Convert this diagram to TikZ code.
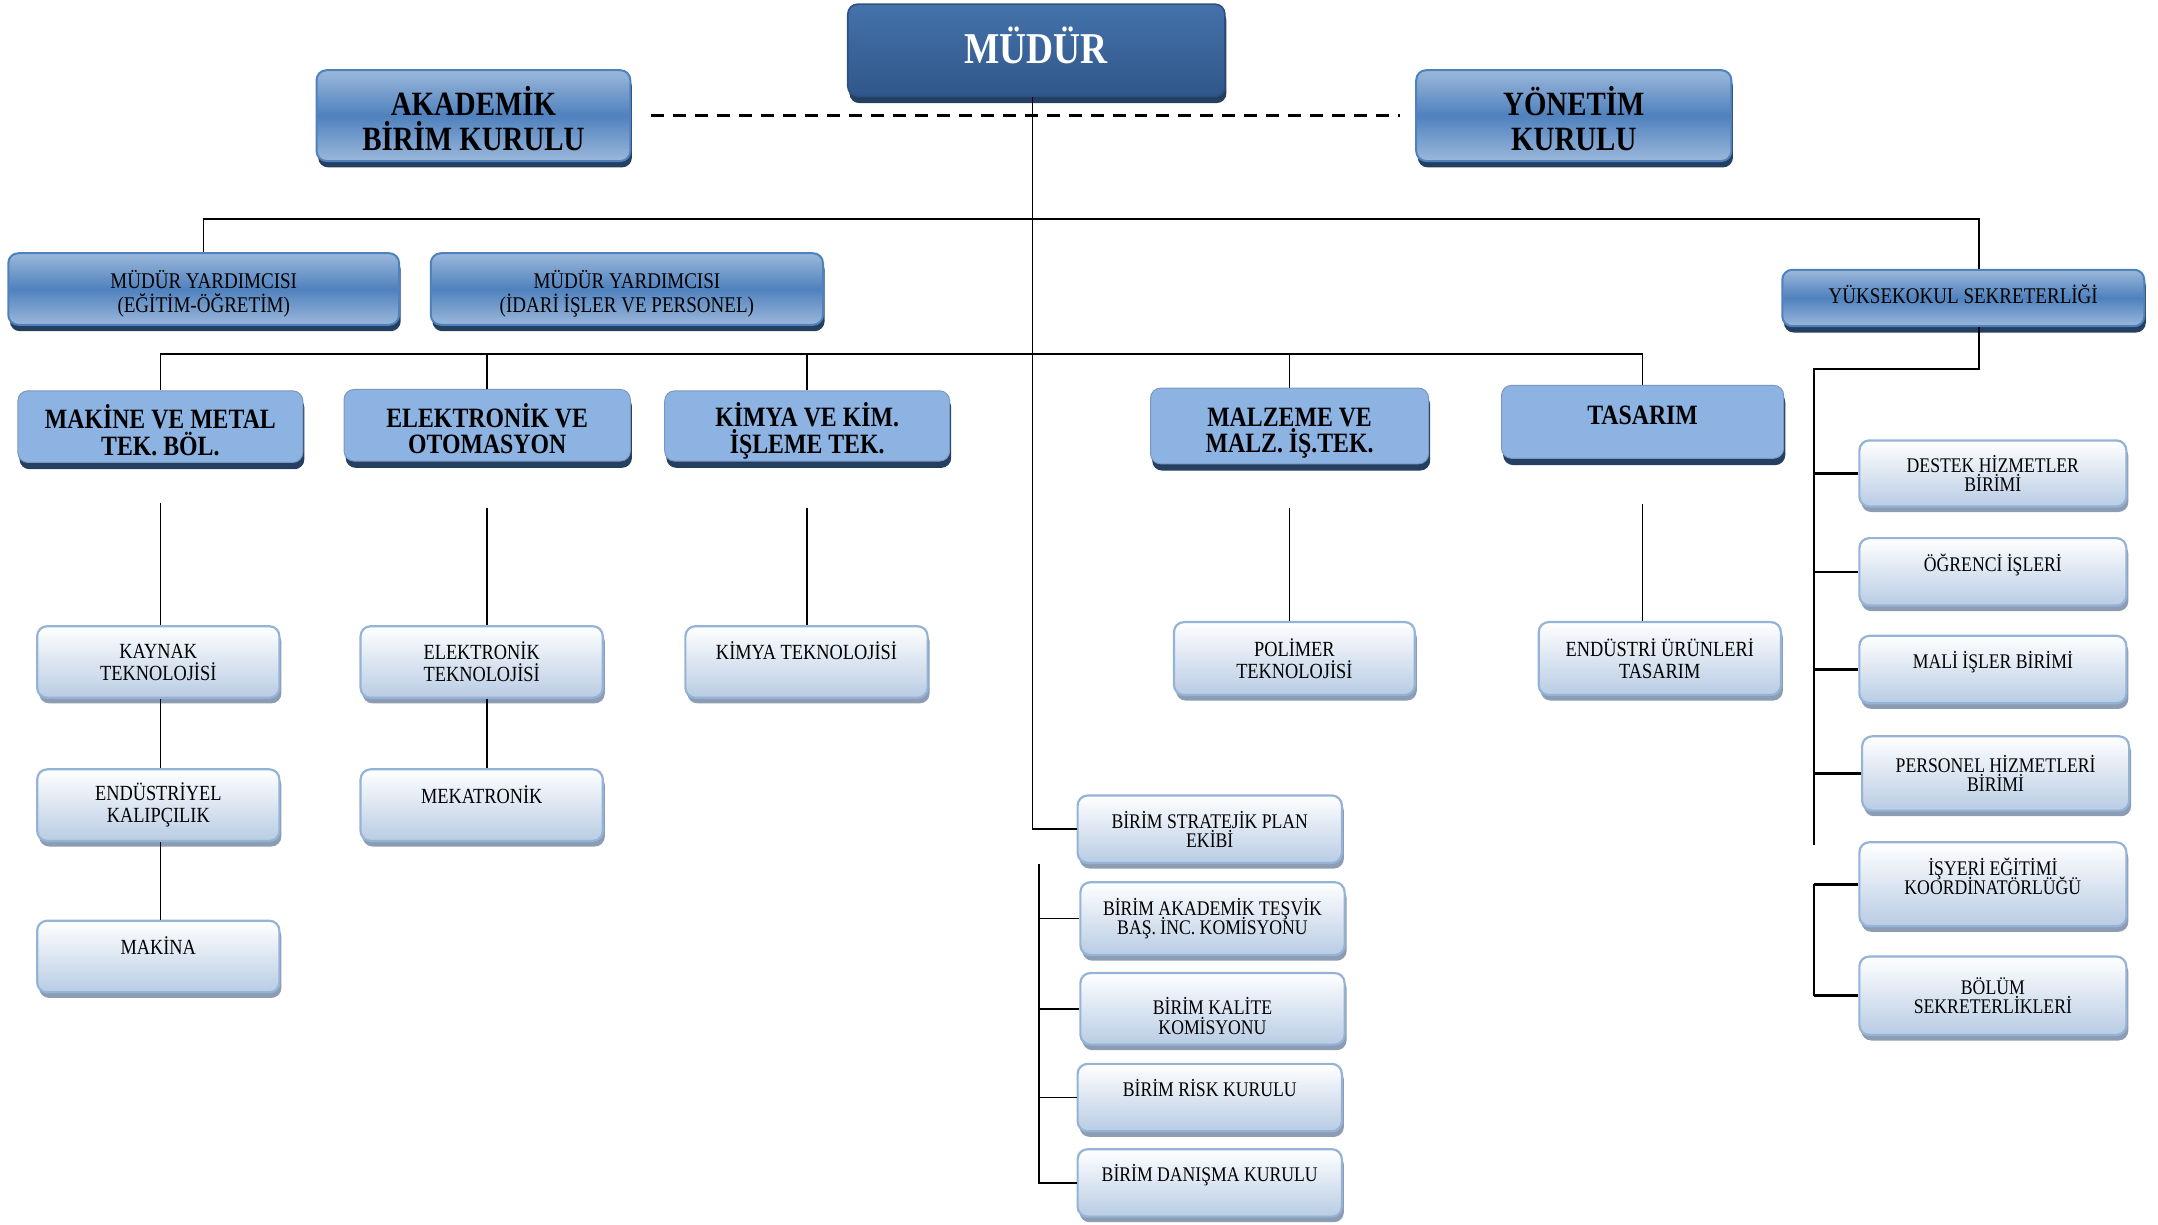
\documentclass[tikz,border=0pt]{standalone}
\usepackage{fontspec}
\setmainfont{Liberation Serif}[FakeStretch=0.85]
\usetikzlibrary{shadows,calc}
\definecolor{dkt}{HTML}{4472AA}
\definecolor{dkbt}{HTML}{30578B}
\definecolor{dkline}{HTML}{2E5080}
\definecolor{navy}{HTML}{243F60}
\definecolor{lt}{HTML}{9BB8DB}
\definecolor{md}{HTML}{4F81BD}
\definecolor{dept}{HTML}{8DB3E2}
\definecolor{smb}{HTML}{95B3D7}
\definecolor{smbot}{HTML}{B8CCE4}
\definecolor{smsh}{HTML}{8C9CB3}
\newcommand{\tightlines}{\lineskiplimit=-20pt\lineskip=0pt}
\newcommand{\dn}[1]{\rule{0pt}{#1}}
\newcommand{\upr}[1]{\rule[-#1]{0pt}{#1}}
\begin{document}
\begin{tikzpicture}[x=0.6882pt,y=-0.6882pt,
  sz/.style 2 args={minimum width=#1*0.6882pt, minimum height=#2*0.6882pt},
  base/.style={rounded corners=5pt, align=center, inner sep=0pt, text=black},
  darkbox/.style={base, draw=dkline, line width=0.8pt, top color=dkt, bottom color=dkbt,
    drop shadow={shadow xshift=0.8pt, shadow yshift=-3.4pt, fill=navy, opacity=1},
    text=white, font=\bfseries\fontsize{22}{24}\selectfont},
  midbox/.style={base, draw=md, line width=1pt, top color=lt, bottom color=lt, middle color=md,
    drop shadow={shadow xshift=0.8pt, shadow yshift=-3.2pt, fill=navy, opacity=1}},
  deptbox/.style={base, fill=dept, draw=dept!85!black, line width=0.5pt,
    drop shadow={shadow xshift=0.8pt, shadow yshift=-3.4pt, fill=navy, opacity=1},
    font=\bfseries\fontsize{14}{13.1}\selectfont\tightlines},
  smallbox/.style={base, draw=smb, line width=1.1pt, top color=white, bottom color=smbot,
    drop shadow={shadow xshift=1pt, shadow yshift=-2.8pt, fill=smsh, opacity=1}},
  fbig/.style={font=\bfseries\fontsize{17}{17.2}\selectfont\tightlines},
  fmy/.style={font=\fontsize{11.2}{11.7}\selectfont\tightlines},
  fsm/.style={font=\fontsize{10.8}{11}\selectfont\tightlines},
  fcm/.style={font=\fontsize{10.4}{9.6}\selectfont\tightlines},
  ln/.style={draw=black, line width=0.8pt},
  lnt/.style={draw=black, line width=1.3pt},
  dashline/.style={draw=black, line width=1.5pt, dash pattern=on 6.5pt off 4.5pt}
]
\useasboundingbox (0,0) rectangle (1568,890);

% top level
\node[darkbox, sz={274}{67}] (mudur) at (753,36.5) {MÜDÜR\upr{5.5pt}};
\node[midbox, fbig, sz={228}{66}] (akad) at (344,84) {\dn{17.6pt}AKADEMİK\\BİRİM KURULU};
\node[midbox, fbig, sz={229}{66}] (yon) at (1143.5,84) {\dn{17.6pt}YÖNETİM\\KURULU};

\node[midbox, fmy, sz={284}{52}] (my1) at (148,210) {\dn{13.7pt}MÜDÜR YARDIMCISI\\(EĞİTİM-ÖĞRETİM)};
\node[midbox, fmy, sz={285}{52}] (my2) at (455.5,210) {\dn{13.7pt}MÜDÜR YARDIMCISI\\(İDARİ İŞLER VE PERSONEL)};
\node[midbox, fmy, sz={263}{41}] (yuk) at (1426.5,216.5) {YÜKSEKOKUL SEKRETERLİĞİ\upr{4pt}};

% departments
\node[deptbox, sz={207}{52}] (mak) at (116.5,310) {\dn{15.5pt}MAKİNE VE METAL\\TEK. BÖL.};
\node[deptbox, sz={208}{52}] (ele) at (354,309) {\dn{15pt}ELEKTRONİK VE\\OTOMASYON};
\node[deptbox, sz={207}{51}] (kim) at (586.5,309.5) {\dn{17pt}KİMYA VE KİM.\\İŞLEME TEK.};
\node[deptbox, sz={202}{55}] (malz) at (937,309.5) {\dn{16.5pt}MALZEME VE\\MALZ. İŞ.TEK.};
\node[deptbox, sz={205}{53}] (tas) at (1193.5,306.5) {\dn{16pt}TASARIM\\\phantom{X}};

% programmes
\node[smallbox, fsm, sz={176}{52}] (kay) at (115,481) {KAYNAK\\TEKNOLOJİSİ};
\node[smallbox, fsm, sz={176}{52}] (end) at (115,585) {ENDÜSTRİYEL\\KALIPÇILIK};
\node[smallbox, fsm, sz={176}{52}] (mkn) at (115,695) {MAKİNA\\\phantom{X}};
\node[smallbox, fsm, sz={176}{52}] (etk) at (350,481) {ELEKTRONİK\\TEKNOLOJİSİ};
\node[smallbox, fsm, sz={176}{52}] (mek) at (350,585) {MEKATRONİK\\\phantom{X}};
\node[smallbox, fsm, sz={176}{52}] (ktk) at (586,481) {KİMYA TEKNOLOJİSİ\\\phantom{X}};
\node[smallbox, fsm, sz={175}{53}] (pol) at (940.5,478.5) {POLİMER\\TEKNOLOJİSİ};
\node[smallbox, fsm, sz={176}{53}] (eut) at (1206,478.5) {ENDÜSTRİ ÜRÜNLERİ\\TASARIM};

% committees
\node[smallbox, fcm, sz={192}{49}] (str) at (879,602.5) {BİRİM STRATEJİK PLAN\\EKİBİ};
\node[smallbox, fcm, sz={192}{53}] (tes) at (881,667.5) {BİRİM AKADEMİK TEŞVİK\\BAŞ. İNC. KOMİSYONU};
\node[smallbox, fcm, sz={192}{52}] (kal) at (881,733) {\dn{15.8pt}BİRİM KALİTE\\KOMİSYONU};
\node[smallbox, fcm, sz={192}{49}] (ris) at (879,797.5) {BİRİM RİSK KURULU\\\phantom{X}};
\node[smallbox, fcm, sz={192}{49}] (dan) at (879,859.5) {BİRİM DANIŞMA KURULU\\\phantom{X}};

% secretariat units
\node[smallbox, fcm, sz={194}{48}] (des) at (1448,344) {DESTEK HİZMETLER\\BİRİMİ};
\node[smallbox, fcm, sz={194}{49}] (ogr) at (1448,415.5) {ÖĞRENCİ İŞLERİ\\\phantom{X}};
\node[smallbox, fcm, sz={194}{49}] (mal) at (1448,486.5) {MALİ İŞLER BİRİMİ\\\phantom{X}};
\node[smallbox, fcm, sz={194}{54}] (per) at (1450,562) {PERSONEL HİZMETLERİ\\BİRİMİ};
\node[smallbox, fcm, sz={194}{61}] (isy) at (1448,642.5) {İŞYERİ EĞİTİMİ\\KOORDİNATÖRLÜĞÜ\upr{8pt}};
\node[smallbox, fcm, sz={194}{57}] (bol) at (1448,723.5) {BÖLÜM\\SEKRETERLİKLERİ};

% coordinates
\coordinate (bus1) at (0,159);
\coordinate (bus2) at (0,257);
\coordinate (yin) at ($(yuk.north)+(8pt,0)$);
\coordinate (yout) at ($(yuk.south)+(8pt,0)$);
\coordinate (cv) at (755,628);
\coordinate (rv) at (1318,268);
\coordinate (rvend) at (1318,614);
\coordinate (rv2) at (1318,0);

% connectors
\draw[dashline] ([xshift=9.6pt]akad.east) -- ([xshift=-7.6pt]yon.west);
\draw[ln] ([xshift=-2pt]mudur.south) |- (str.west);
\draw[ln] (my1.north) |- (bus1 -| yin) -- (yin);
\draw[ln] (mak.north) |- (bus2 -| tas.north) -- (tas.north);
\foreach \n in {ele,kim,malz} \draw[ln] (\n.north) -- (\n.north |- bus2);

\draw[ln] ([yshift=-20pt]mak.south) -- (mak.south |- kay.north);
\draw[ln] (mak.south |- kay.south) -- (mak.south |- end.north);
\draw[ln] (mak.south |- end.south) -- (mak.south |- mkn.north);
\draw[ln] ([yshift=-23.4pt]ele.south) -- (ele.south |- etk.north);
\draw[ln] (ele.south |- etk.south) -- (ele.south |- mek.north);
\draw[ln] ([yshift=-23.4pt]kim.south) -- (kim.south |- ktk.north);
\draw[ln] ([yshift=-22pt]malz.south) -- (malz.south |- pol.north);
\draw[ln] ([yshift=-22.7pt]tas.south) -- (tas.south |- eut.north);

\draw[ln] (cv) |- (dan.west);
\foreach \n in {tes,kal,ris} \draw[ln] (\n.west) -- (\n.west -| cv);

\draw[ln] (yout) |- (rv) -- (rvend);
\foreach \n in {des,ogr,mal,per} \draw[lnt] (\n.west) -- (\n.west -| rv);
\draw[ln] (isy.west -| rv2) -- (bol.west -| rv2);
\draw[lnt] (isy.west) -- (isy.west -| rv2);
\draw[lnt] (bol.west) -- (bol.west -| rv2);
\end{tikzpicture}
\end{document}
